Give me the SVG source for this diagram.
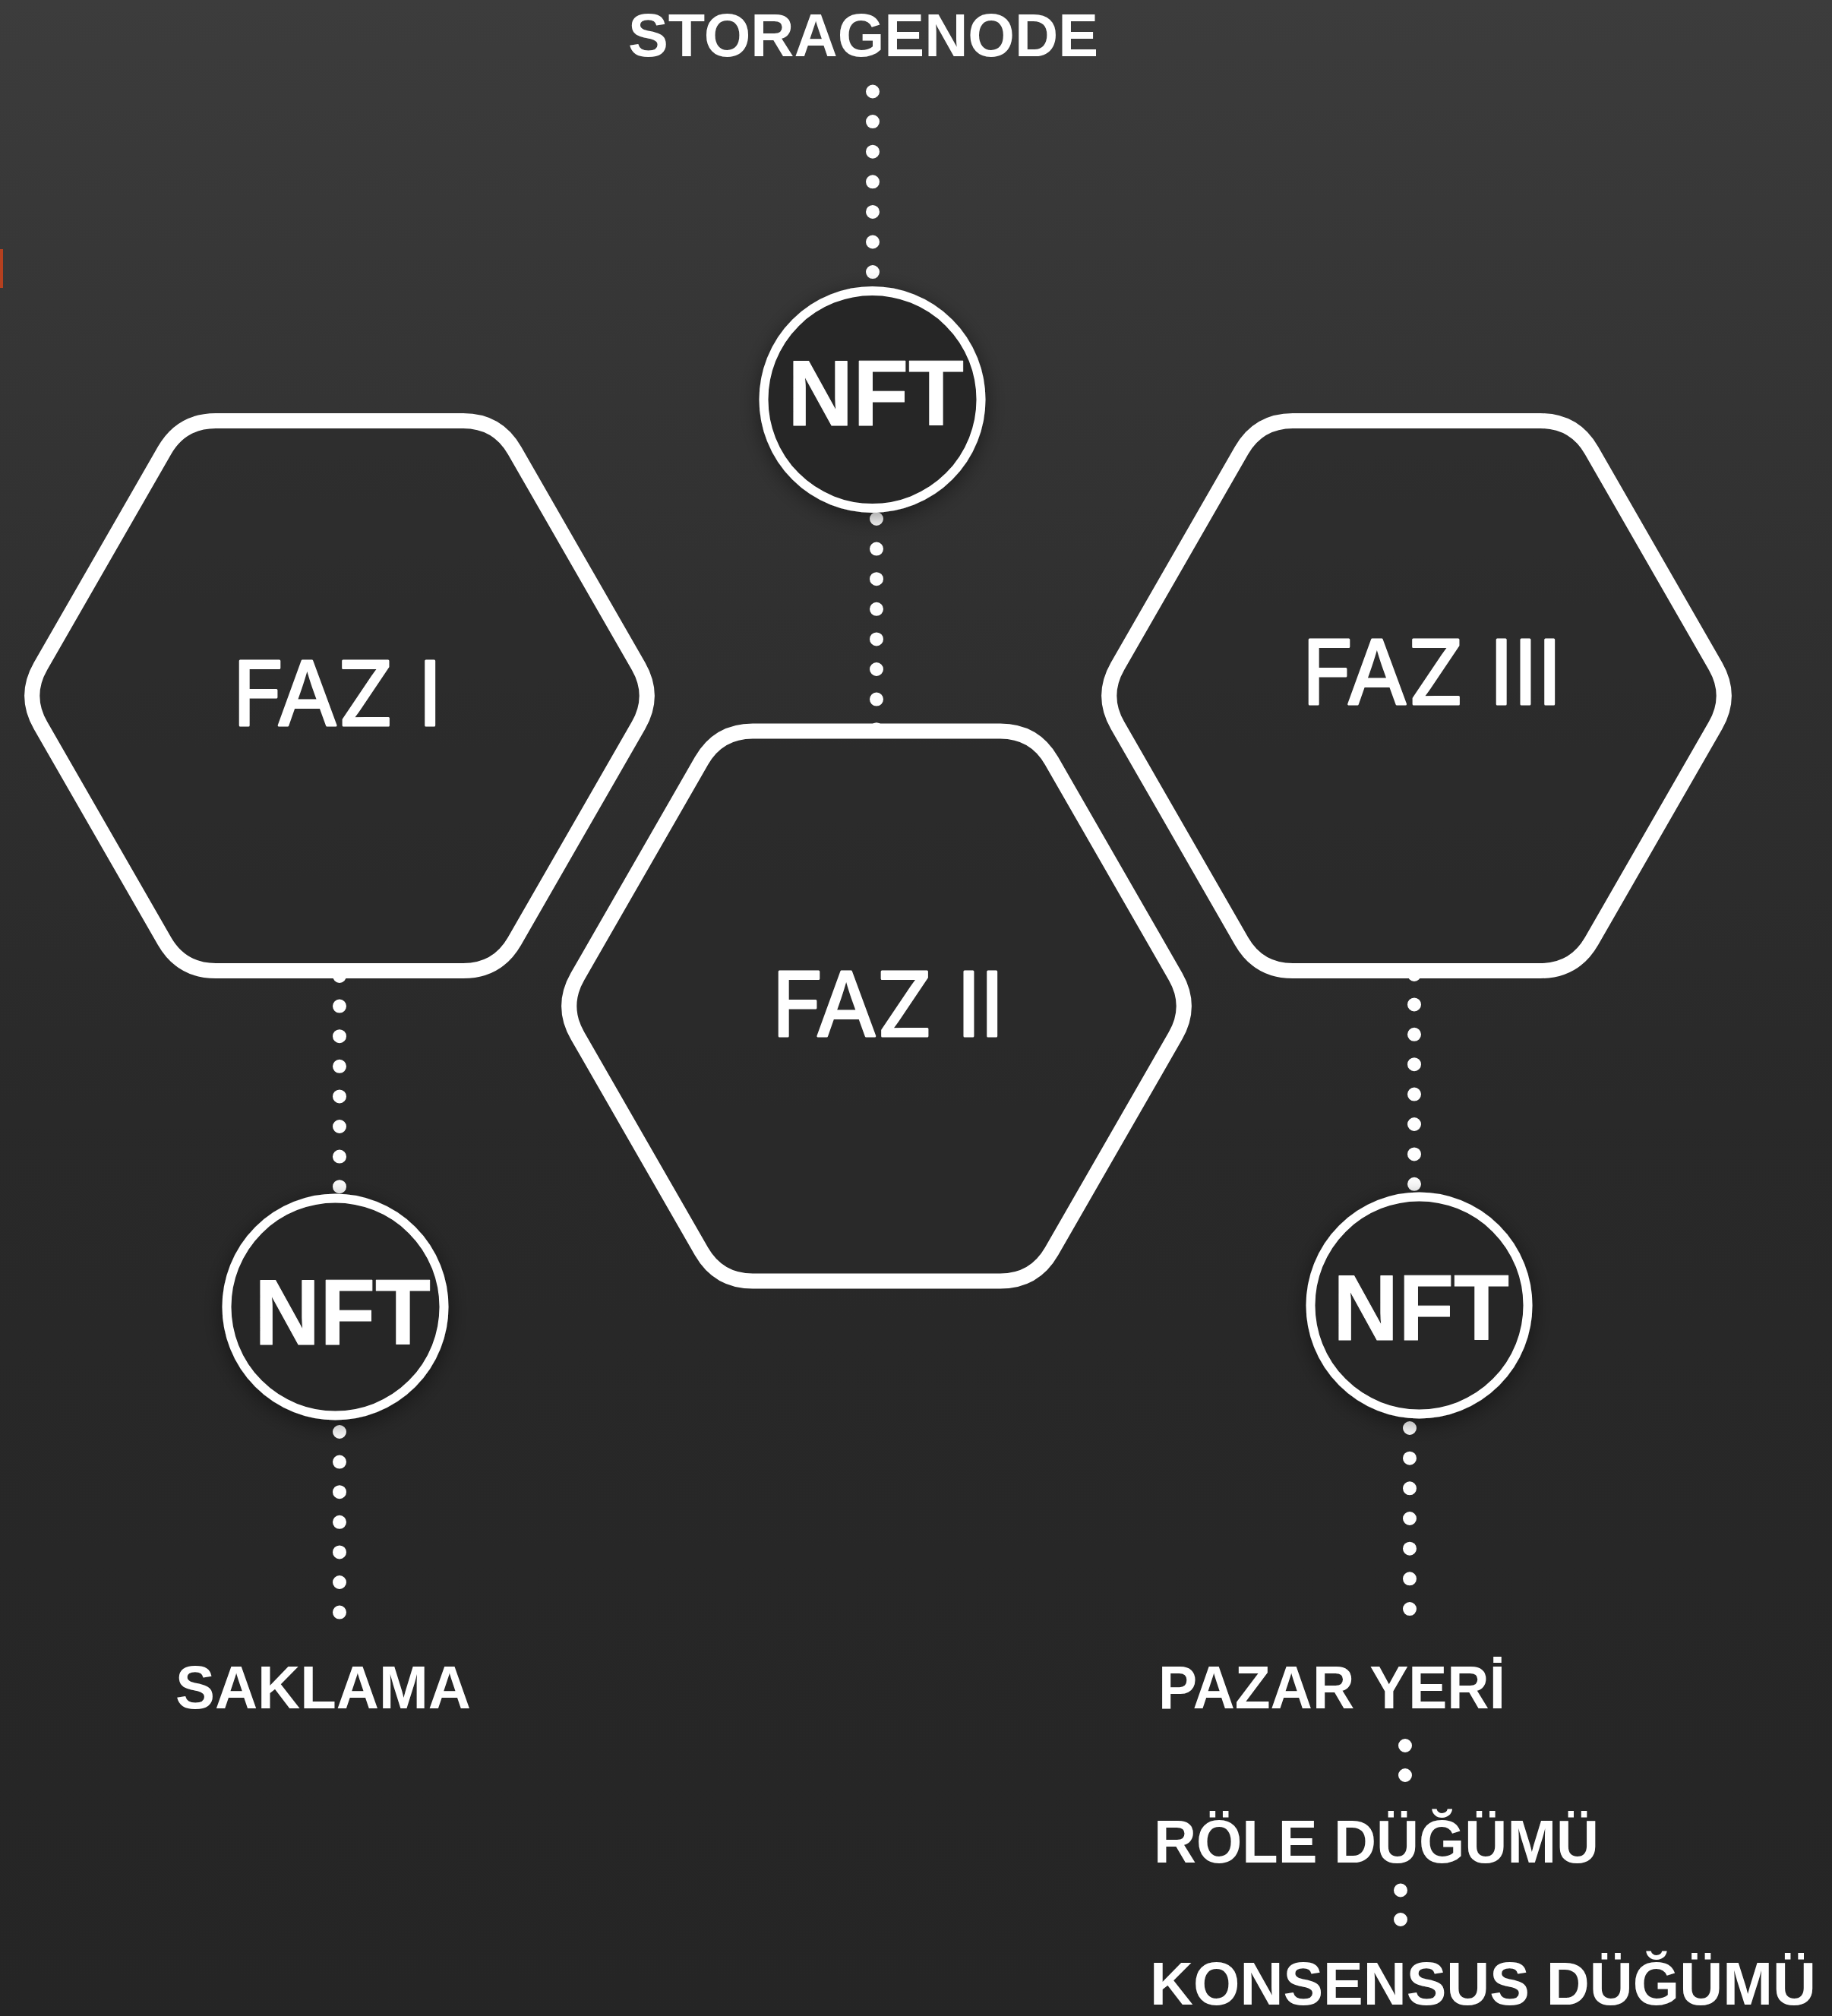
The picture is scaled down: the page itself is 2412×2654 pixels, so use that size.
<svg xmlns="http://www.w3.org/2000/svg" width="2412" height="2654" viewBox="0 0 2412 2654">
<defs>
<linearGradient id="bg" x1="0" y1="0" x2="0" y2="1">
<stop offset="0" stop-color="#3c3c3c"/>
<stop offset="0.3" stop-color="#303030"/>
<stop offset="0.55" stop-color="#292929"/>
<stop offset="1" stop-color="#252525"/>
</linearGradient>
<filter id="sh" x="-30%" y="-30%" width="160%" height="160%">
<feDropShadow dx="0" dy="6" stdDeviation="14" flood-color="#000" flood-opacity="0.45"/>
</filter>
<path id="hex" d="M -393.58,-39.02 L -230.42,-322.98 Q -208,-362 -163,-362 L 163,-362 Q 208,-362 230.42,-322.98 L 393.58,-39.02 Q 416,0 393.58,39.02 L 230.42,322.98 Q 208,362 163,362 L -163,362 Q -208,362 -230.42,322.98 L -393.58,39.02 Q -416,0 -393.58,-39.02 Z"/>
</defs>
<style>
.hex{fill:#2a2a2a;fill-opacity:0.55;stroke:#fff;stroke-width:20;}
.circ{fill:#262626;stroke:#fff;stroke-width:12;}
.dots{fill:none;stroke:#fff;stroke-width:18;stroke-linecap:round;}
.faz{font-family:Inter,"Open Sans","Liberation Sans",sans-serif;font-weight:400;font-size:117px;fill:#fff;stroke:#fff;stroke-width:3;stroke-linejoin:round;text-anchor:middle;}
.nft{font-family:"Liberation Sans",Arial,sans-serif;font-weight:700;font-size:122px;fill:#fff;stroke:#fff;stroke-width:1;stroke-linejoin:round;text-anchor:middle;}
.lbl{font-family:"Liberation Sans",Arial,sans-serif;font-weight:700;font-size:79px;fill:#fff;}
</style>
<rect x="0" y="0" width="2412" height="2654" fill="url(#bg)"/>
<rect x="0" y="328" width="4" height="51" fill="#b5401f"/>

<g id="connectors">
<line class="dots" x1="1149" y1="120.5" x2="1149" y2="360" stroke-dasharray="0 39.6"/>
<line class="dots" x1="1154" y1="683" x2="1154" y2="962" stroke-dasharray="0 39.6"/>
<line class="dots" x1="447" y1="1285" x2="447" y2="1564" stroke-dasharray="0 39.6"/>
<line class="dots" x1="447" y1="1885" x2="447" y2="2124" stroke-dasharray="0 39.6"/>
<line class="dots" x1="1862" y1="1283" x2="1862" y2="1560" stroke-dasharray="0 39.4"/>
<line class="dots" x1="1856" y1="1880" x2="1856" y2="2120" stroke-dasharray="0 39.67"/>
<line class="dots" x1="1850" y1="2298" x2="1850" y2="2339" stroke-dasharray="0 39"/>
<line class="dots" x1="1844" y1="2488.5" x2="1844" y2="2529" stroke-dasharray="0 38.5"/>
</g>

<g id="faz1">
<use href="#hex" class="hex" transform="translate(447,916)"/>
<text class="faz" x="444" y="955" textLength="276" lengthAdjust="spacing">FAZ I</text>
</g>
<g id="faz2">
<use href="#hex" class="hex" transform="translate(1154,1324.5)"/>
<text class="faz" x="1169" y="1364" textLength="306" lengthAdjust="spacing">FAZ II</text>
</g>
<g id="faz3">
<use href="#hex" class="hex" transform="translate(1865,916)"/>
<text class="faz" x="1885" y="927" textLength="342" lengthAdjust="spacing">FAZ III</text>
</g>

<g id="nft-top">
<circle class="circ" cx="1148.5" cy="526" r="143" filter="url(#sh)"/>
<text class="nft" x="1153" y="560" textLength="232" lengthAdjust="spacingAndGlyphs">NFT</text>
</g>
<g id="nft-left">
<circle class="circ" cx="441.5" cy="1720.5" r="143" filter="url(#sh)"/>
<text class="nft" x="451" y="1770" textLength="232" lengthAdjust="spacingAndGlyphs">NFT</text>
</g>
<g id="nft-right">
<circle class="circ" cx="1868.5" cy="1718.5" r="143" filter="url(#sh)"/>
<text class="nft" x="1871" y="1764" textLength="232" lengthAdjust="spacingAndGlyphs">NFT</text>
</g>

<g id="storagenode">
<text class="lbl" x="827" y="74" textLength="619" lengthAdjust="spacingAndGlyphs">STORAGENODE</text>
</g>
<g id="saklama">
<text class="lbl" x="231" y="2249" textLength="389" lengthAdjust="spacingAndGlyphs">SAKLAMA</text>
</g>
<g id="pazar-yeri">
<text class="lbl" x="1525" y="2249" textLength="457" lengthAdjust="spacingAndGlyphs">PAZAR YERİ</text>
</g>
<g id="role-dugumu">
<text class="lbl" x="1519" y="2452" textLength="586" lengthAdjust="spacingAndGlyphs">RÖLE DÜĞÜMÜ</text>
</g>
<g id="konsensus-dugumu">
<text class="lbl" x="1514" y="2639" textLength="877" lengthAdjust="spacingAndGlyphs">KONSENSUS DÜĞÜMÜ</text>
</g>
</svg>
